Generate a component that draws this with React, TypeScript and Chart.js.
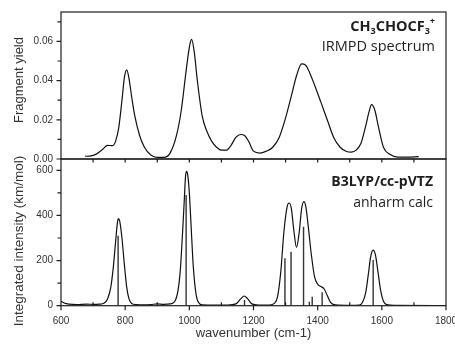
import React, { useEffect, useRef } from "react";
import { Chart, registerables } from "chart.js";
Chart.register(...registerables);

// ---- IRMPD spectrum (top panel) ----
const topWavenumber = [675, 690, 710, 730, 745, 760, 770, 780, 790, 798, 805, 812, 820, 830, 845, 860, 880, 900, 920, 940, 960, 975, 990, 1000, 1007, 1015, 1025, 1040, 1055, 1070, 1085, 1100, 1115, 1130, 1145, 1160, 1172, 1185, 1200, 1220, 1240, 1260, 1280, 1300, 1320, 1335, 1350, 1362, 1375, 1392, 1410, 1432, 1450, 1470, 1490, 1505, 1520, 1535, 1550, 1560, 1568, 1578, 1590, 1605, 1625, 1650, 1680, 1715];
const topYield = [0.0014, 0.0015, 0.0025, 0.005, 0.007, 0.0068, 0.009, 0.016, 0.03, 0.042, 0.0455, 0.041, 0.032, 0.022, 0.012, 0.006, 0.002, 0.0008, 0.0008, 0.003, 0.012, 0.025, 0.045, 0.057, 0.061, 0.055, 0.04, 0.022, 0.014, 0.009, 0.006, 0.0045, 0.0045, 0.007, 0.011, 0.0125, 0.012, 0.009, 0.004, 0.003, 0.004, 0.006, 0.011, 0.021, 0.0335, 0.043, 0.0485, 0.048, 0.044, 0.037, 0.029, 0.019, 0.011, 0.006, 0.0038, 0.0035, 0.0045, 0.008, 0.017, 0.024, 0.0277, 0.025, 0.016, 0.006, 0.0024, 0.001, 0.001, 0.0012];

// ---- B3LYP/cc-pVTZ anharmonic calculation (bottom panel) ----
const calcWavenumber = [600, 610, 625, 650, 680, 700, 720, 735, 745, 755, 763, 770, 776, 779, 783, 790, 797, 805, 812, 820, 835, 860, 880, 900, 920, 940, 955, 965, 972, 978, 984, 988, 991, 995, 1000, 1006, 1012, 1020, 1028, 1040, 1080, 1120, 1145, 1160, 1171, 1182, 1195, 1215, 1250, 1265, 1275, 1285, 1295, 1305, 1311, 1318, 1326, 1334, 1342, 1350, 1357, 1363, 1370, 1380, 1390, 1400, 1410, 1420, 1430, 1440, 1455, 1500, 1530, 1540, 1550, 1558, 1565, 1573, 1580, 1588, 1596, 1605, 1615, 1640, 1800];
const calcIntensity = [20, 12, 7, 5, 7, 6, 7, 12, 30, 80, 170, 280, 370, 386, 375, 300, 190, 80, 30, 10, 5, 4, 5, 8, 6, 8, 20, 70, 160, 300, 460, 570, 595, 580, 500, 340, 180, 60, 15, 4, 3, 3, 8, 30, 43, 30, 8, 3, 3, 10, 40, 150, 330, 440, 455, 430, 330, 258, 320, 430, 461, 440, 360, 230, 130, 95, 85, 75, 45, 15, 4, 2, 3, 15, 60, 140, 215, 246, 225, 150, 70, 20, 5, 1, 0];
const stickWavenumber = [778, 990, 1172, 1298, 1317, 1356, 1374, 1383, 1414, 1573];
const stickIntensity = [310, 490, 25, 210, 239, 350, 18, 40, 60, 202];

// ---- ticks ----
const yieldMajor = [0, 0.02, 0.04, 0.06];
const yieldMinor = [0.01, 0.03, 0.05, 0.07];
const intensityMajor = [0, 200, 400, 600];
const intensityMinor = [100, 300, 500];
const xMajor = [600, 800, 1000, 1200, 1400, 1600, 1800];
const xMinor = [700, 900, 1100, 1300, 1500, 1700];
const xShared = [700, 800, 900, 1000, 1100, 1200, 1300, 1400, 1500, 1600, 1700];

const INK = "#1e1e1e";
const AXIS_FONT = "'Liberation Sans', Arial, sans-serif";
const NOTE_FONT = "'Open Sans', 'Noto Sans', sans-serif";

type Seg = { t: string; sub?: boolean; sup?: boolean };
type Note = { segs: Seg[]; right: number; baseline: number; size: number; bold: boolean };

function drawNote(ctx: CanvasRenderingContext2D, n: Note) {
  const fontFor = (s: Seg) => {
    const sz = s.sub || s.sup ? n.size * 0.62 : n.size;
    return `${n.bold ? "bold " : ""}${sz}px ${NOTE_FONT}`;
  };
  let total = 0;
  const widths = n.segs.map((s) => {
    ctx.font = fontFor(s);
    const w = ctx.measureText(s.t).width;
    total += w;
    return w;
  });
  let x = n.right - total;
  ctx.fillStyle = INK;
  ctx.textAlign = "left";
  ctx.textBaseline = "alphabetic";
  n.segs.forEach((s, i) => {
    ctx.font = fontFor(s);
    const dy = s.sub ? n.size * 0.22 : s.sup ? -n.size * 0.45 : 0;
    ctx.fillText(s.t, x, n.baseline + dy);
    x += widths[i];
  });
}

function decor(opts: {
  yMajor: number[];
  yMinor: number[];
  xTopInward?: number[];
  xBottomMajor?: number[];
  xBottomMinor?: number[];
  yTitle: { text: string; cy: number; size: number };
  notes: Note[];
}) {
  return {
    id: "decor",
    afterDraw(chart: any) {
      const ctx: CanvasRenderingContext2D = chart.ctx;
      const { left, right, top, bottom } = chart.chartArea;
      const xs = chart.scales.x;
      const ys = chart.scales.y;
      ctx.save();
      ctx.strokeStyle = INK;
      ctx.lineWidth = 1.2;
      ctx.strokeRect(left, top, right - left, bottom - top);
      ctx.beginPath();
      opts.yMajor.forEach((v) => {
        const y = ys.getPixelForValue(v);
        ctx.moveTo(left - 4.5, y);
        ctx.lineTo(left, y);
      });
      opts.yMinor.forEach((v) => {
        const y = ys.getPixelForValue(v);
        ctx.moveTo(left - 3.5, y);
        ctx.lineTo(left, y);
      });
      (opts.xTopInward || []).forEach((v) => {
        const x = xs.getPixelForValue(v);
        ctx.moveTo(x, top);
        ctx.lineTo(x, top + 3.5);
      });
      (opts.xBottomMajor || []).forEach((v) => {
        const x = xs.getPixelForValue(v);
        ctx.moveTo(x, bottom);
        ctx.lineTo(x, bottom + 4.5);
      });
      (opts.xBottomMinor || []).forEach((v) => {
        const x = xs.getPixelForValue(v);
        ctx.moveTo(x, bottom);
        ctx.lineTo(x, bottom - 3.5);
      });
      ctx.stroke();

      ctx.translate(19, opts.yTitle.cy);
      ctx.rotate(-Math.PI / 2);
      ctx.font = `${opts.yTitle.size}px ${AXIS_FONT}`;
      ctx.fillStyle = "#333";
      ctx.textAlign = "center";
      ctx.textBaseline = "middle";
      ctx.fillText(opts.yTitle.text, 0, 0);
      ctx.restore();

      ctx.save();
      opts.notes.forEach((n) => drawNote(ctx, n));
      ctx.restore();
    },
  };
}

const tickFont = { family: AXIS_FONT, size: 10 };

export default function App() {
  const topRef = useRef<HTMLCanvasElement>(null);
  const botRef = useRef<HTMLCanvasElement>(null);

  useEffect(() => {
    const top = new Chart(topRef.current!, {
      type: "line",
      data: {
        datasets: [
          {
            data: topWavenumber.map((x, i) => ({ x, y: topYield[i] })),
            borderColor: "#111",
            borderWidth: 1.2,
            pointRadius: 0,
            cubicInterpolationMode: "monotone",
            fill: false,
          },
        ],
      },
      options: {
        animation: false,
        responsive: false,
        events: [],
        layout: { padding: { top: 12, right: 9, bottom: 188, left: 0 } },
        plugins: { legend: { display: false }, tooltip: { enabled: false } },
        scales: {
          x: { type: "linear", min: 600, max: 1800, display: false },
          y: {
            type: "linear",
            min: 0,
            max: 0.075,
            grid: { display: false, drawTicks: false },
            border: { display: false },
            ticks: {
              stepSize: 0.02,
              includeBounds: false,
              padding: 8,
              color: "#333",
              font: tickFont,
              callback: (v: any) => Number(v).toFixed(2),
            },
            afterFit: (s: any) => {
              s.width = 61;
              s.paddingTop = 0;
              s.paddingBottom = 0;
            },
          },
        },
      } as any,
      plugins: [
        decor({
          yMajor: yieldMajor,
          yMinor: yieldMinor,
          yTitle: { text: "Fragment yield", cy: 80, size: 13 },
          notes: [
            {
              segs: [
                { t: "CH" },
                { t: "3", sub: true },
                { t: "CHOCF" },
                { t: "3", sub: true },
                { t: "+", sup: true },
              ],
              right: 435,
              baseline: 31,
              size: 14.5,
              bold: true,
            },
            { segs: [{ t: "IRMPD spectrum" }], right: 435, baseline: 51, size: 14.5, bold: false },
          ],
        }) as any,
      ],
    });

    const stickData: any[] = [];
    stickWavenumber.forEach((x, i) => {
      stickData.push({ x, y: 0 }, { x, y: stickIntensity[i] }, { x, y: null });
    });

    const bot = new Chart(botRef.current!, {
      type: "line",
      data: {
        datasets: [
          {
            data: calcWavenumber.map((x, i) => ({ x, y: calcIntensity[i] })),
            borderColor: "#111",
            borderWidth: 1.2,
            pointRadius: 0,
            cubicInterpolationMode: "monotone",
            fill: false,
          },
          {
            data: stickData,
            borderColor: "#333",
            borderWidth: 1.4,
            pointRadius: 0,
            tension: 0,
            spanGaps: false,
            fill: false,
          },
        ],
      },
      options: {
        animation: false,
        responsive: false,
        events: [],
        layout: { padding: { top: 159, right: 9, bottom: 0, left: 0 } },
        plugins: { legend: { display: false }, tooltip: { enabled: false } },
        scales: {
          x: {
            type: "linear",
            min: 600,
            max: 1800,
            grid: { display: false, drawTicks: false },
            border: { display: false },
            ticks: {
              stepSize: 200,
              padding: 10,
              color: "#333",
              font: tickFont,
              maxRotation: 0,
              callback: (v: any) => String(Math.round(Number(v))),
            },
            title: {
              display: true,
              text: "wavenumber (cm-1)",
              color: "#333",
              font: { family: AXIS_FONT, size: 13, lineHeight: 1.2 },
              padding: { top: 0, bottom: 6 },
            },
            afterFit: (s: any) => {
              s.height = 41.3;
              s.paddingLeft = 0;
              s.paddingRight = 0;
            },
          },
          y: {
            type: "linear",
            min: 0,
            max: 650,
            grid: { display: false, drawTicks: false },
            border: { display: false },
            ticks: {
              stepSize: 200,
              includeBounds: false,
              padding: 8,
              color: "#333",
              font: tickFont,
              callback: (v: any) => String(Math.round(Number(v))),
            },
            afterFit: (s: any) => {
              s.width = 61;
              s.paddingTop = 0;
              s.paddingBottom = 0;
            },
          },
        },
      } as any,
      plugins: [
        decor({
          yMajor: intensityMajor,
          yMinor: intensityMinor,
          xTopInward: xShared,
          xBottomMajor: xMajor,
          xBottomMinor: xMinor,
          yTitle: { text: "Integrated intensity (km/mol)", cy: 241, size: 13.5 },
          notes: [
            { segs: [{ t: "B3LYP/cc-pVTZ" }], right: 433, baseline: 186, size: 14, bold: true },
            { segs: [{ t: "anharm calc" }], right: 433, baseline: 207, size: 14, bold: false },
          ],
        }) as any,
      ],
    });

    return () => {
      top.destroy();
      bot.destroy();
    };
  }, []);

  const cv: React.CSSProperties = { position: "absolute", left: 0, top: 0, display: "block" };
  return (
    <div
      style={{
        position: "absolute",
        left: 0,
        top: 0,
        width: 455,
        height: 347,
        overflow: "hidden",
        background: "#fff",
      }}
    >
      <canvas ref={topRef} width={455} height={347} style={cv} />
      <canvas ref={botRef} width={455} height={347} style={cv} />
    </div>
  );
}
